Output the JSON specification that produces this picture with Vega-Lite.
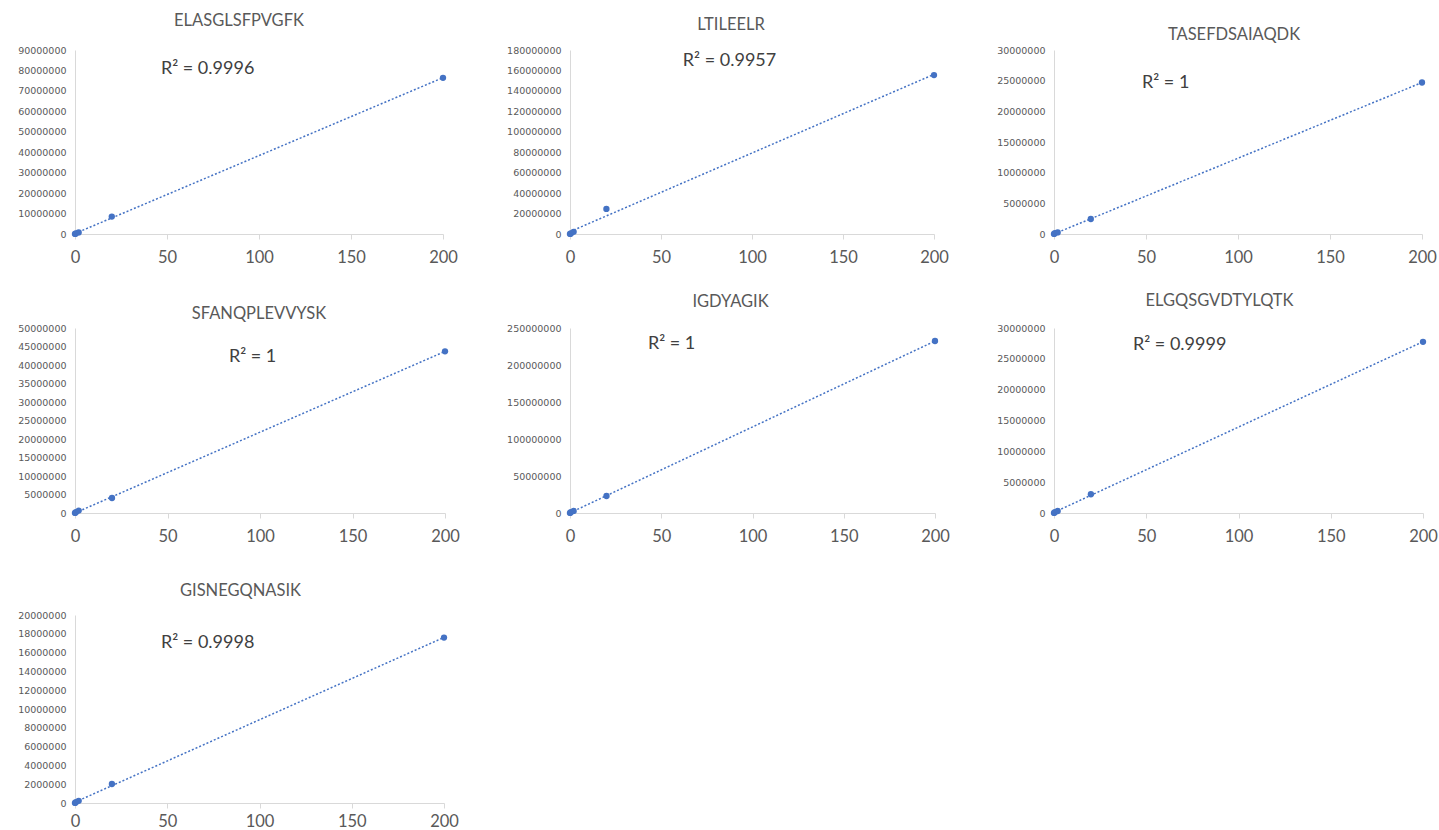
{
"$schema": "https://vega.github.io/schema/vega-lite/v6.json",
"padding": {"left": 17, "top": 12, "right": 5, "bottom": 5},
"background": "white",
"datasets": {
 "pts": [
  {"peptide": "ELASGLSFPVGFK", "x": 0, "y": 40000},
  {"peptide": "ELASGLSFPVGFK", "x": 0.5, "y": 250000},
  {"peptide": "ELASGLSFPVGFK", "x": 2, "y": 780000},
  {"peptide": "ELASGLSFPVGFK", "x": 20, "y": 8500000},
  {"peptide": "ELASGLSFPVGFK", "x": 200, "y": 76400000},
  {"peptide": "LTILEELR", "x": 0, "y": 50000},
  {"peptide": "LTILEELR", "x": 0.5, "y": 500000},
  {"peptide": "LTILEELR", "x": 2, "y": 2100000},
  {"peptide": "LTILEELR", "x": 20, "y": 24500000},
  {"peptide": "LTILEELR", "x": 200, "y": 155500000},
  {"peptide": "TASEFDSAIAQDK", "x": 0, "y": 10000},
  {"peptide": "TASEFDSAIAQDK", "x": 0.5, "y": 120000},
  {"peptide": "TASEFDSAIAQDK", "x": 2, "y": 260000},
  {"peptide": "TASEFDSAIAQDK", "x": 20, "y": 2440000},
  {"peptide": "TASEFDSAIAQDK", "x": 200, "y": 24700000},
  {"peptide": "SFANQPLEVVYSK", "x": 0, "y": 20000},
  {"peptide": "SFANQPLEVVYSK", "x": 0.5, "y": 220000},
  {"peptide": "SFANQPLEVVYSK", "x": 2, "y": 650000},
  {"peptide": "SFANQPLEVVYSK", "x": 20, "y": 4050000},
  {"peptide": "SFANQPLEVVYSK", "x": 200, "y": 43700000},
  {"peptide": "IGDYAGIK", "x": 0, "y": 100000},
  {"peptide": "IGDYAGIK", "x": 0.5, "y": 1100000},
  {"peptide": "IGDYAGIK", "x": 2, "y": 2800000},
  {"peptide": "IGDYAGIK", "x": 20, "y": 23000000},
  {"peptide": "IGDYAGIK", "x": 200, "y": 232400000},
  {"peptide": "ELGQSGVDTYLQTK", "x": 0, "y": 15000},
  {"peptide": "ELGQSGVDTYLQTK", "x": 0.5, "y": 140000},
  {"peptide": "ELGQSGVDTYLQTK", "x": 2, "y": 330000},
  {"peptide": "ELGQSGVDTYLQTK", "x": 20, "y": 3040000},
  {"peptide": "ELGQSGVDTYLQTK", "x": 200, "y": 27760000},
  {"peptide": "GISNEGQNASIK", "x": 0, "y": 10000},
  {"peptide": "GISNEGQNASIK", "x": 0.5, "y": 90000},
  {"peptide": "GISNEGQNASIK", "x": 2, "y": 230000},
  {"peptide": "GISNEGQNASIK", "x": 20, "y": 2020000},
  {"peptide": "GISNEGQNASIK", "x": 200, "y": 17600000}
 ],
 "r2": [
  {"peptide": "ELASGLSFPVGFK", "x": 46.7, "y": 80700000, "label": "R² = 0.9996"},
  {"peptide": "LTILEELR", "x": 62, "y": 169200000, "label": "R² = 0.9957"},
  {"peptide": "TASEFDSAIAQDK", "x": 47.8, "y": 24600000, "label": "R² = 1"},
  {"peptide": "SFANQPLEVVYSK", "x": 83.2, "y": 42200000, "label": "R² = 1"},
  {"peptide": "IGDYAGIK", "x": 42.7, "y": 228000000, "label": "R² = 1"},
  {"peptide": "ELGQSGVDTYLQTK", "x": 42.8, "y": 27200000, "label": "R² = 0.9999"},
  {"peptide": "GISNEGQNASIK", "x": 46.6, "y": 17060000, "label": "R² = 0.9998"}
 ]
},
"spacing": 26,
"vconcat": [
 {
  "bounds": "flush",
  "spacing": 127,
  "hconcat": [
   {
    "width": 368, "height": 184,
    "title": {"text": "ELASGLSFPVGFK", "dx": -20, "offset": 16},
    "encoding": {
     "x": {"field": "x", "type": "quantitative", "scale": {"domain": [0, 200], "nice": false}, "axis": {"values": [0, 50, 100, 150, 200]}},
     "y": {"field": "y", "type": "quantitative", "scale": {"domain": [0, 90000000], "nice": false}, "axis": {"values": [0, 10000000, 20000000, 30000000, 40000000, 50000000, 60000000, 70000000, 80000000, 90000000]}}
    },
    "layer": [
     {"data": {"name": "pts"}, "transform": [{"filter": "datum.peptide === 'ELASGLSFPVGFK'"}, {"regression": "y", "on": "x", "extent": [0, 200]}], "mark": {"type": "line", "strokeDash": [2, 2], "strokeWidth": 1.5, "color": "#4472C4"}},
     {"data": {"name": "pts"}, "transform": [{"filter": "datum.peptide === 'ELASGLSFPVGFK'"}], "mark": {"type": "circle", "size": 40, "color": "#4472C4", "opacity": 1}},
     {"data": {"name": "r2"}, "transform": [{"filter": "datum.peptide === 'ELASGLSFPVGFK'"}], "mark": {"type": "text", "align": "left", "baseline": "middle", "fontSize": 18, "font": "Lato", "color": "#404040"}, "encoding": {"text": {"field": "label"}}}
    ]
   },
   {
    "bounds": "flush",
    "spacing": 120,
    "hconcat": [
     {
      "width": 364, "height": 184,
      "title": {"text": "LTILEELR", "dx": -21, "offset": 12},
      "encoding": {
       "x": {"field": "x", "type": "quantitative", "scale": {"domain": [0, 200], "nice": false}, "axis": {"values": [0, 50, 100, 150, 200]}},
       "y": {"field": "y", "type": "quantitative", "scale": {"domain": [0, 180000000], "nice": false}, "axis": {"values": [0, 20000000, 40000000, 60000000, 80000000, 100000000, 120000000, 140000000, 160000000, 180000000]}}
      },
      "layer": [
       {"data": {"name": "pts"}, "transform": [{"filter": "datum.peptide === 'LTILEELR'"}, {"regression": "y", "on": "x", "extent": [0, 200]}], "mark": {"type": "line", "strokeDash": [2, 2], "strokeWidth": 1.5, "color": "#4472C4"}},
       {"data": {"name": "pts"}, "transform": [{"filter": "datum.peptide === 'LTILEELR'"}], "mark": {"type": "circle", "size": 40, "color": "#4472C4", "opacity": 1}},
       {"data": {"name": "r2"}, "transform": [{"filter": "datum.peptide === 'LTILEELR'"}], "mark": {"type": "text", "align": "left", "baseline": "middle", "fontSize": 18, "font": "Lato", "color": "#404040"}, "encoding": {"text": {"field": "label"}}}
      ]
     },
     {
      "width": 368, "height": 184,
      "title": {"text": "TASEFDSAIAQDK", "dx": -4, "offset": 2},
      "encoding": {
       "x": {"field": "x", "type": "quantitative", "scale": {"domain": [0, 200], "nice": false}, "axis": {"values": [0, 50, 100, 150, 200]}},
       "y": {"field": "y", "type": "quantitative", "scale": {"domain": [0, 30000000], "nice": false}, "axis": {"values": [0, 5000000, 10000000, 15000000, 20000000, 25000000, 30000000]}}
      },
      "layer": [
       {"data": {"name": "pts"}, "transform": [{"filter": "datum.peptide === 'TASEFDSAIAQDK'"}, {"regression": "y", "on": "x", "extent": [0, 200]}], "mark": {"type": "line", "strokeDash": [2, 2], "strokeWidth": 1.5, "color": "#4472C4"}},
       {"data": {"name": "pts"}, "transform": [{"filter": "datum.peptide === 'TASEFDSAIAQDK'"}], "mark": {"type": "circle", "size": 40, "color": "#4472C4", "opacity": 1}},
       {"data": {"name": "r2"}, "transform": [{"filter": "datum.peptide === 'TASEFDSAIAQDK'"}], "mark": {"type": "text", "align": "left", "baseline": "middle", "fontSize": 18, "font": "Lato", "color": "#404040"}, "encoding": {"text": {"field": "label"}}}
      ]
     }
    ]
   }
  ]
 },
 {
  "spacing": 37,
  "vconcat": [
   {
    "bounds": "flush",
    "spacing": 125,
    "hconcat": [
     {
      "width": 370, "height": 185,
      "title": {"text": "SFANQPLEVVYSK", "dx": -1, "offset": 1},
      "encoding": {
       "x": {"field": "x", "type": "quantitative", "scale": {"domain": [0, 200], "nice": false}, "axis": {"values": [0, 50, 100, 150, 200]}},
       "y": {"field": "y", "type": "quantitative", "scale": {"domain": [0, 50000000], "nice": false}, "axis": {"values": [0, 5000000, 10000000, 15000000, 20000000, 25000000, 30000000, 35000000, 40000000, 45000000, 50000000]}}
      },
      "layer": [
       {"data": {"name": "pts"}, "transform": [{"filter": "datum.peptide === 'SFANQPLEVVYSK'"}, {"regression": "y", "on": "x", "extent": [0, 200]}], "mark": {"type": "line", "strokeDash": [2, 2], "strokeWidth": 1.5, "color": "#4472C4"}},
       {"data": {"name": "pts"}, "transform": [{"filter": "datum.peptide === 'SFANQPLEVVYSK'"}], "mark": {"type": "circle", "size": 40, "color": "#4472C4", "opacity": 1}},
       {"data": {"name": "r2"}, "transform": [{"filter": "datum.peptide === 'SFANQPLEVVYSK'"}], "mark": {"type": "text", "align": "left", "baseline": "middle", "fontSize": 18, "font": "Lato", "color": "#404040"}, "encoding": {"text": {"field": "label"}}}
      ]
     },
     {
      "bounds": "flush",
      "spacing": 119,
      "hconcat": [
       {
        "width": 365, "height": 185,
        "title": {"text": "IGDYAGIK", "dx": -22, "offset": 13},
        "encoding": {
         "x": {"field": "x", "type": "quantitative", "scale": {"domain": [0, 200], "nice": false}, "axis": {"values": [0, 50, 100, 150, 200]}},
         "y": {"field": "y", "type": "quantitative", "scale": {"domain": [0, 250000000], "nice": false}, "axis": {"values": [0, 50000000, 100000000, 150000000, 200000000, 250000000]}}
        },
        "layer": [
         {"data": {"name": "pts"}, "transform": [{"filter": "datum.peptide === 'IGDYAGIK'"}, {"regression": "y", "on": "x", "extent": [0, 200]}], "mark": {"type": "line", "strokeDash": [2, 2], "strokeWidth": 1.5, "color": "#4472C4"}},
         {"data": {"name": "pts"}, "transform": [{"filter": "datum.peptide === 'IGDYAGIK'"}], "mark": {"type": "circle", "size": 40, "color": "#4472C4", "opacity": 1}},
         {"data": {"name": "r2"}, "transform": [{"filter": "datum.peptide === 'IGDYAGIK'"}], "mark": {"type": "text", "align": "left", "baseline": "middle", "fontSize": 18, "font": "Lato", "color": "#404040"}, "encoding": {"text": {"field": "label"}}}
        ]
       },
       {
        "width": 369, "height": 185,
        "title": {"text": "ELGQSGVDTYLQTK", "dx": -19, "offset": 14},
        "encoding": {
         "x": {"field": "x", "type": "quantitative", "scale": {"domain": [0, 200], "nice": false}, "axis": {"values": [0, 50, 100, 150, 200]}},
         "y": {"field": "y", "type": "quantitative", "scale": {"domain": [0, 30000000], "nice": false}, "axis": {"values": [0, 5000000, 10000000, 15000000, 20000000, 25000000, 30000000]}}
        },
        "layer": [
         {"data": {"name": "pts"}, "transform": [{"filter": "datum.peptide === 'ELGQSGVDTYLQTK'"}, {"regression": "y", "on": "x", "extent": [0, 200]}], "mark": {"type": "line", "strokeDash": [2, 2], "strokeWidth": 1.5, "color": "#4472C4"}},
         {"data": {"name": "pts"}, "transform": [{"filter": "datum.peptide === 'ELGQSGVDTYLQTK'"}], "mark": {"type": "circle", "size": 40, "color": "#4472C4", "opacity": 1}},
         {"data": {"name": "r2"}, "transform": [{"filter": "datum.peptide === 'ELGQSGVDTYLQTK'"}], "mark": {"type": "text", "align": "left", "baseline": "middle", "fontSize": 18, "font": "Lato", "color": "#404040"}, "encoding": {"text": {"field": "label"}}}
        ]
       }
      ]
     }
    ]
   },
   {
    "width": 369, "height": 188,
    "title": {"text": "GISNEGQNASIK", "dx": -19, "offset": 11},
    "encoding": {
     "x": {"field": "x", "type": "quantitative", "scale": {"domain": [0, 200], "nice": false}, "axis": {"values": [0, 50, 100, 150, 200], "labelPadding": 5}},
     "y": {"field": "y", "type": "quantitative", "scale": {"domain": [0, 20000000], "nice": false}, "axis": {"values": [0, 2000000, 4000000, 6000000, 8000000, 10000000, 12000000, 14000000, 16000000, 18000000, 20000000]}}
    },
    "layer": [
     {"data": {"name": "pts"}, "transform": [{"filter": "datum.peptide === 'GISNEGQNASIK'"}, {"regression": "y", "on": "x", "extent": [0, 200]}], "mark": {"type": "line", "strokeDash": [2, 2], "strokeWidth": 1.5, "color": "#4472C4"}},
     {"data": {"name": "pts"}, "transform": [{"filter": "datum.peptide === 'GISNEGQNASIK'"}], "mark": {"type": "circle", "size": 40, "color": "#4472C4", "opacity": 1}},
     {"data": {"name": "r2"}, "transform": [{"filter": "datum.peptide === 'GISNEGQNASIK'"}], "mark": {"type": "text", "align": "left", "baseline": "middle", "fontSize": 18, "font": "Lato", "color": "#404040"}, "encoding": {"text": {"field": "label"}}}
    ]
   }
  ]
 }
],
"config": {
 "view": {"stroke": null},
 "font": "Lato",
 "title": {"fontSize": 16.5, "font": "Lato", "fontWeight": "normal", "color": "#595959", "anchor": "middle"},
 "axis": {"title": null, "grid": false, "domainColor": "#d9d9d9", "tickColor": "#d9d9d9", "labelColor": "#595959", "labelFont": "Lato", "format": "d"},
 "axisX": {"labelFontSize": 16.5, "tickSize": 5, "labelPadding": 10, "labelFlush": false, "labelOverlap": false},
 "axisY": {"labelFontSize": 9.5, "ticks": false, "labelPadding": 9, "labelOverlap": false, "labelFont": "DejaVu Sans"}
}
}
